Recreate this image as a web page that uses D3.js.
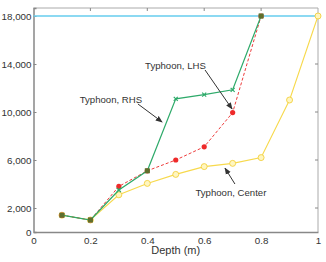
<!DOCTYPE html>
<html>
  <head>
    <meta charset="utf-8">
    <title>Typhoon depth chart</title>
    <script src="https://d3js.org/d3.v7.min.js"></script>
    <style>
      body { margin: 0; background: #fff; }
      text { font-family: "Liberation Sans", Arial, sans-serif; fill: #333; }
    </style>
  </head>
  <body>
    <div id="chart"></div>
    <script>
      // values
      var depth = [0.1, 0.2, 0.3, 0.4, 0.5, 0.6, 0.7, 0.8];
      var rhs = [1400, 1000, 3500, 5100, 11100, 11450, 11850, 18000];
      var lhs = [1400, 1000, 3800, 5100, 6000, 7100, 9950, 18000];
      var centerDepth = [0.1, 0.2, 0.3, 0.4, 0.5, 0.6, 0.7, 0.8, 0.9, 1.0];
      var center = [1400, 1000, 3100, 4050, 4800, 5450, 5720, 6200, 11000, 18000];
      var limit = 18000;
      var xTicks = [0, 0.2, 0.4, 0.6, 0.8, 1];
      var yTicks = [0, 2000, 6000, 10000, 14000, 18000];
      var labels = [
        {text: "Typhoon, RHS", x: 0.272, y: 11000, ax: 0.367, ay: 10670, bx: 0.452, by: 9170},
        {text: "Typhoon, LHS", x: 0.499, y: 13830, ax: 0.603, ay: 13500, bx: 0.698, by: 10250},
        {text: "Typhoon, Center", x: 0.694, y: 3250, ax: 0.708, ay: 4000, bx: 0.673, by: 5330}
      ];

      var width = 326, height = 262;
      var margin = {left: 33.5, right: 8, top: 8, bottom: 30};

      var x = d3.scaleLinear().domain([0, 1]).range([margin.left, width - margin.right]);
      var y = d3.scaleLinear().domain([0, 18667]).range([height - margin.bottom, margin.top]);

      var svg = d3.select("#chart").append("svg")
        .attr("width", width)
        .attr("height", height);

      svg.append("defs").append("marker")
        .attr("id", "arrow")
        .attr("viewBox", "0 0 10 10")
        .attr("refX", 9).attr("refY", 5)
        .attr("markerWidth", 7).attr("markerHeight", 7)
        .attr("orient", "auto")
        .append("path")
        .attr("d", "M0,1 L10,5 L0,9 Z")
        .attr("fill", "#333");

      // frame: top and right
      svg.append("path")
        .attr("d", "M" + x(0) + "," + y.range()[1] + "H" + x(1) + "V" + y(0))
        .attr("fill", "none").attr("stroke", "#aaa").attr("stroke-width", 1);

      var xAxis = svg.append("g")
        .attr("transform", "translate(0," + y(0) + ")")
        .call(d3.axisBottom(x).tickValues(xTicks).tickSize(0).tickPadding(5).tickFormat(function(d) { return d; }));
      var yAxis = svg.append("g")
        .attr("transform", "translate(" + x(0) + ",0)")
        .call(d3.axisLeft(y).tickValues(yTicks).tickSize(-3).tickPadding(2).tickFormat(d3.format(",")));
      [xAxis, yAxis].forEach(function(g) {
        g.select(".domain").attr("stroke", "#888").attr("stroke-width", 1.5);
        g.selectAll(".tick line").attr("stroke", "#888");
        g.selectAll("text").style("font-size", "9.8px").attr("fill", "#444");
      });
      yAxis.select(".tick:first-of-type line").remove();

      // inner ticks on top and right
      svg.append("g").selectAll("line").data(xTicks.slice(1, -1)).enter().append("line")
        .attr("x1", x).attr("x2", x)
        .attr("y1", y.range()[1]).attr("y2", y.range()[1] + 3)
        .attr("stroke", "#888");
      svg.append("g").selectAll("line").data(yTicks.slice(1, -1)).enter().append("line")
        .attr("x1", x(1)).attr("x2", x(1) - 3)
        .attr("y1", y).attr("y2", y)
        .attr("stroke", "#888");

      svg.append("text")
        .attr("x", (x(0) + x(1)) / 2).attr("y", 254)
        .attr("text-anchor", "middle")
        .style("font-size", "11px")
        .text("Depth (m)");

      // limit line
      svg.append("line")
        .attr("x1", x(0)).attr("x2", x(1))
        .attr("y1", y(limit)).attr("y2", y(limit))
        .attr("stroke", "#66ccee").attr("stroke-width", 1.3);

      var line = d3.line().x(function(d) { return x(d[0]); }).y(function(d) { return y(d[1]); });
      var centerPts = d3.zip(centerDepth, center);
      var lhsPts = d3.zip(depth, lhs);
      var rhsPts = d3.zip(depth, rhs);

      svg.append("path").datum(centerPts).attr("d", line)
        .attr("fill", "none").attr("stroke", "#f7d94c").attr("stroke-width", 1.1);
      svg.selectAll("circle.center").data(centerPts).enter().append("circle")
        .attr("class", "center")
        .attr("cx", function(d) { return x(d[0]); }).attr("cy", function(d) { return y(d[1]); })
        .attr("r", 3).attr("fill", "#fff6c0").attr("stroke", "#f3d040").attr("stroke-width", 0.9);

      svg.append("path").datum(lhsPts).attr("d", line)
        .attr("fill", "none").attr("stroke", "#ee3b3b").attr("stroke-width", 1).attr("stroke-dasharray", "3,2");
      svg.selectAll("circle.lhs").data(lhsPts).enter().append("circle")
        .attr("class", "lhs")
        .attr("cx", function(d) { return x(d[0]); }).attr("cy", function(d) { return y(d[1]); })
        .attr("r", 2.6).attr("fill", "#ee2a2a");

      svg.append("path").datum(rhsPts).attr("d", line)
        .attr("fill", "none").attr("stroke", "#2eaa6a").attr("stroke-width", 1.2);
      svg.selectAll("path.rhs").data(rhsPts).enter().append("path")
        .attr("class", "rhs")
        .attr("transform", function(d) { return "translate(" + x(d[0]) + "," + y(d[1]) + ")"; })
        .attr("d", "M-2,-2L2,2M-2,2L2,-2")
        .attr("stroke", "#2eaa6a").attr("stroke-width", 1.2);

      // where RHS and LHS meet, the markers show as olive squares
      var shared = rhsPts.filter(function(d, i) { return d[1] === lhs[i]; });
      svg.selectAll("rect.shared").data(shared).enter().append("rect")
        .attr("class", "shared")
        .attr("x", function(d) { return x(d[0]) - 2.5; }).attr("y", function(d) { return y(d[1]) - 2.5; })
        .attr("width", 5).attr("height", 5)
        .attr("fill", "#5e6f2c");

      // annotations
      labels.forEach(function(l) {
        svg.append("text")
          .attr("x", x(l.x)).attr("y", y(l.y)).attr("dy", "0.35em")
          .attr("text-anchor", "middle")
          .style("font-size", "9.6px")
          .text(l.text);
        svg.append("line")
          .attr("x1", x(l.ax)).attr("y1", y(l.ay))
          .attr("x2", x(l.bx)).attr("y2", y(l.by))
          .attr("stroke", "#333").attr("stroke-width", 1)
          .attr("marker-end", "url(#arrow)");
      });
    </script>
  </body>
</html>
